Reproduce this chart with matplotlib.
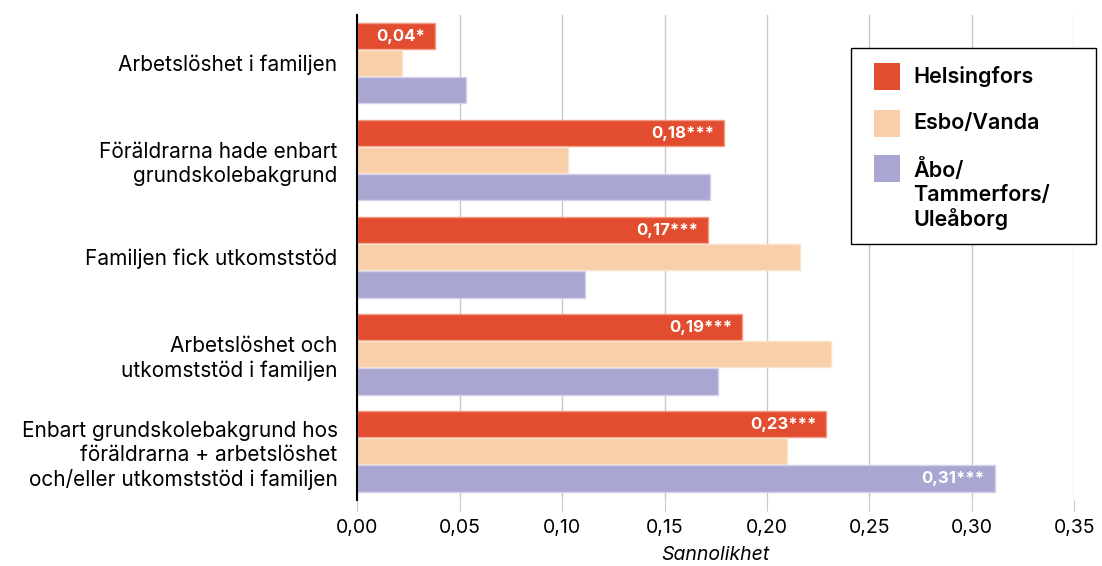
import numpy as np
import matplotlib.pyplot as plt
from matplotlib.patches import Rectangle

plt.rcParams['font.family'] = ['Inter', 'DejaVu Sans']

categories = [
    "Arbetslöshet i familjen",
    "Föräldrarna hade enbart\ngrundskolebakgrund",
    "Familjen fick utkomststöd",
    "Arbetslöshet och\nutkomststöd i familjen",
    "Enbart grundskolebakgrund hos\nföräldrarna + arbetslöshet\noch/eller utkomststöd i familjen",
]
series = ["Helsingfors", "Esbo/Vanda", "Åbo/\nTammerfors/\nUleåborg"]
helsingfors = [0.038, 0.179, 0.171, 0.188, 0.229]
esbo_vanda = [0.022, 0.103, 0.216, 0.231, 0.210]
abo_tre_ulea = [0.053, 0.172, 0.111, 0.176, 0.311]
helsingfors_labels = ["0,04*", "0,18***", "0,17***", "0,19***", "0,23***"]
abo_labels = ["", "", "", "", "0,31***"]

colors = ["#E34D2F", "#F9CFA9", "#A9A6D1"]
edges = ["#F29A86", "#FCE3CC", "#D4D2EA"]

W, H = 1102, 566
fig = plt.figure(figsize=(W / 100, H / 100), dpi=100)
ax = fig.add_axes([0.324, 0.117, 0.651, 0.857])

y = np.arange(len(categories))
h = 0.27
off = 0.28
data = [helsingfors, esbo_vanda, abo_tre_ulea]
for i, vals in enumerate(data):
    ax.barh(y + (i - 1) * off, vals, height=h, color=colors[i],
            edgecolor=edges[i], linewidth=1, zorder=3)

def fmt_label(ax, ys, vals, labels):
    for yy, v, lab in zip(ys, vals, labels):
        if lab:
            ax.annotate(lab, (v, yy), xytext=(-7, 0), textcoords="offset points",
                        ha="right", va="center", color="white",
                        fontsize=12, fontweight="bold", zorder=4)

fmt_label(ax, y - off, helsingfors, helsingfors_labels)
fmt_label(ax, y + off, abo_tre_ulea, abo_labels)

ax.set_ylim(len(categories) - 0.5, -0.5)
ax.set_xlim(0, 0.35)
xt = np.arange(0, 0.351, 0.05)
ax.set_xticks(xt)
ax.set_xticklabels([f"{t:.2f}".replace(".", ",") for t in xt], fontsize=14)
ax.set_yticks(y)
ax.set_yticklabels(categories, fontsize=15, linespacing=1.25)
ax.tick_params(axis="y", length=0, pad=14)
ax.tick_params(axis="x", length=8, color="#C8C8C8", pad=6)
ax.grid(axis="x", color="#C8C8C8", linewidth=1, zorder=0)
for s in ["top", "right", "bottom"]:
    ax.spines[s].set_visible(False)
ax.spines["left"].set_linewidth(1.5)
ax.spines["left"].set_zorder(5)
ax.set_xlabel("Sannolikhet", fontsize=14, style="italic", labelpad=6)

# legend box drawn by hand (pixel positions -> figure fraction)
def fx(px):
    return px / W

def fy(py):
    return 1 - py / H

fig.patches.append(Rectangle((fx(851), fy(244)), fx(1096) - fx(851), fy(48) - fy(244),
                             transform=fig.transFigure, facecolor="white",
                             edgecolor="black", linewidth=1, zorder=10))
patch_tops = [63, 110, 155]
for c, top, lab in zip(colors, patch_tops, series):
    fig.patches.append(Rectangle((fx(874), fy(top + 27)), fx(900) - fx(874), fy(top) - fy(top + 27),
                                 transform=fig.transFigure, facecolor=c,
                                 edgecolor="none", zorder=11))
    fig.text(fx(913), fy(top + 3), lab, ha="left", va="top", fontsize=15.5,
             fontweight="semibold", linespacing=1.22, zorder=12)

fig.savefig("out.png", dpi=100)
